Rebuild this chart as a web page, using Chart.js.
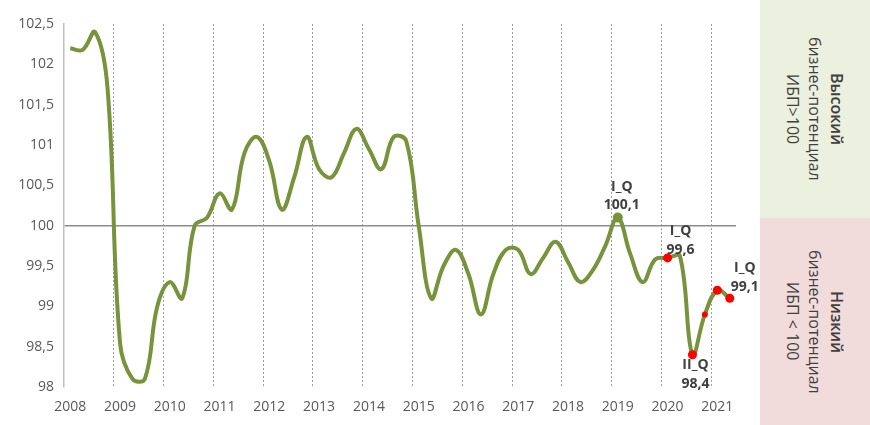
<!DOCTYPE html>
<html>
<head>
<meta charset="utf-8">
<script src="https://cdn.jsdelivr.net/npm/chart.js@4/dist/chart.umd.min.js"></script>
<style>
  body { margin: 0; background: #fff; }
  #wrap { position: relative; width: 870px; height: 425px; }
  #chart { position: absolute; left: 0; top: 0; }
  .panel { position: absolute; left: 760px; width: 110px; display: flex; align-items: center; justify-content: center; }
  .panel .txt { writing-mode: vertical-rl; text-align: center; font: 16px "Open Sans", sans-serif; line-height: 22px; color: #404040; }
  .panel b { font-weight: 600; }
  #high { top: 0; height: 218px; background: #ebf1de; }
  #low { top: 218px; height: 207px; background: #f2dcdb; }
</style>
</head>
<body>
<div id="wrap">
  <canvas id="chart" width="760" height="425"></canvas>
  <div class="panel" id="high"><div class="txt"><b>Высокий</b><br>бизнес-потенциал<br>ИБП&gt;100</div></div>
  <div class="panel" id="low"><div class="txt"><b>Низкий</b><br>бизнес-потенциал<br>ИБП &lt; 100</div></div>
</div>
<script>
// quarters from 2008 Q1 to 2021 Q2
const years = [2008, 2009, 2010, 2011, 2012, 2013, 2014, 2015, 2016, 2017, 2018, 2019, 2020, 2021];
const quarters = ['I', 'II', 'III', 'IV'];

// business potential index, one value per quarter
const ibp = [
  102.2, 102.18, 102.4, 101.7,
  98.55, 98.1, 98.1, 99.0,
  99.3, 99.1, 100.0, 100.1,
  100.4, 100.2, 100.9, 101.1,
  100.8, 100.2, 100.6, 101.1,
  100.7, 100.6, 100.9, 101.2,
  100.95, 100.7, 101.1, 101.05,
  100.0, 99.1, 99.5, 99.7,
  99.4, 98.9, 99.4, 99.7,
  99.7, 99.4, 99.6, 99.8,
  99.55, 99.3, 99.45, 99.75,
  100.1, 99.65, 99.3, 99.58,
  99.6, 99.62, 98.4, 98.9,
  99.2, 99.1
];

const yTicks = [98, 98.5, 99, 99.5, 100, 100.5, 101, 101.5, 102, 102.5];

// marked points and their captions
const markIdx = [44, 48, 50, 51, 52, 53];
const noteIdx = [44, 48, 50, 53];
const noteTop = ['I_Q', 'I_Q', 'II_Q', 'I_Q'];
const noteVal = ['100,1', '99,6', '98,4', '99,1'];

const labels = [];
years.forEach(y => quarters.forEach(q => {
  if (labels.length < ibp.length) labels.push(y + ' ' + q);
}));

const green = '#77933c';
const red = '#ff0000';
const radius = ibp.map((v, i) => {
  if (i === 44) return 5;
  if (i === 51) return 3;
  return markIdx.includes(i) ? 4.5 : 0;
});
const dotColor = ibp.map((v, i) => (i === 44 ? green : red));

// where each caption sits relative to its point
const noteOffsets = [
  { dx: 4, dy: [-31, -13] },
  { dx: 13, dy: [-27, -8] },
  { dx: 3, dy: [10, 29] },
  { dx: 15, dy: [-30, -11] }
];

const notesPlugin = {
  id: 'notes',
  afterDatasetsDraw(chart) {
    const ctx = chart.ctx;
    const meta = chart.getDatasetMeta(0);
    ctx.save();
    ctx.font = 'bold 14px "Open Sans", sans-serif';
    ctx.fillStyle = '#404040';
    ctx.textAlign = 'center';
    ctx.textBaseline = 'middle';
    noteIdx.forEach((idx, k) => {
      const pt = meta.data[idx];
      const off = noteOffsets[k];
      ctx.fillText(noteTop[k], pt.x + off.dx, pt.y + off.dy[0]);
      ctx.fillText(noteVal[k], pt.x + off.dx, pt.y + off.dy[1]);
    });
    ctx.restore();
  }
};

new Chart(document.getElementById('chart'), {
  type: 'line',
  data: {
    labels: labels,
    datasets: [{
      data: ibp,
      borderColor: green,
      borderWidth: 4,
      tension: 0.4,
      pointRadius: radius,
      pointHoverRadius: radius,
      pointBackgroundColor: dotColor,
      pointBorderWidth: 0
    }]
  },
  options: {
    responsive: false,
    animation: false,
    layout: { padding: { left: 0, right: 24, top: 24, bottom: 0 } },
    plugins: { legend: { display: false }, tooltip: { enabled: false } },
    scales: {
      x: {
        offset: true,
        afterFit: (scale) => { scale.height = 38; },
        grid: {
          offset: true,
          drawTicks: false,
          color: (c) => (c.index % 4 === 0 && c.index > 0 ? '#9d9dab' : 'transparent'),
          lineWidth: 1
        },
        border: { display: false, dash: [2, 2] },
        ticks: {
          autoSkip: false,
          maxRotation: 0,
          padding: 12,
          color: '#595959',
          font: { family: 'Open Sans', size: 14 },
          callback: (v, i) => (i % 4 === 0 ? String(years[i / 4]) : '')
        }
      },
      y: {
        min: 98,
        max: 102.5,
        afterFit: (scale) => { scale.width = 64; },
        afterBuildTicks: (scale) => { scale.ticks = yTicks.map(v => ({ value: v })); },
        grid: {
          drawTicks: false,
          color: (c) => (c.tick && c.tick.value === 100 ? '#8c8c8c' : 'transparent'),
          lineWidth: 1.5
        },
        border: { display: true, color: '#bfbfbf', width: 1.5 },
        ticks: {
          padding: 10,
          color: '#595959',
          font: { family: 'Open Sans', size: 14 },
          callback: (v) => String(v).replace('.', ',')
        }
      }
    }
  },
  plugins: [notesPlugin]
});
</script>
</body>
</html>
